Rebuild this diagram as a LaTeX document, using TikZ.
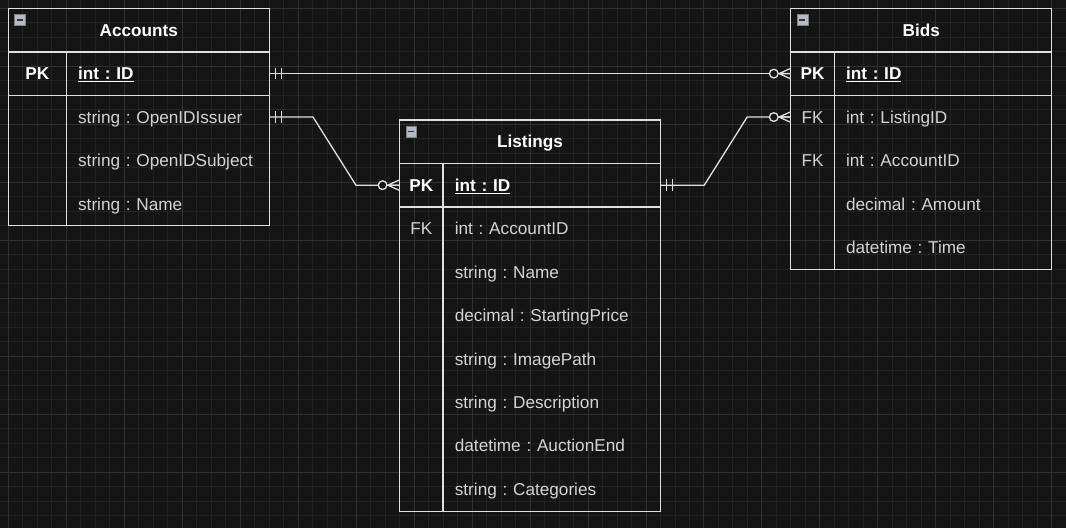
\documentclass[tikz,border=0pt]{standalone}
\usepackage{fontspec}
\setmainfont{Liberation Sans}
\usepackage{xcolor}
\usepackage{tikz}
\usetikzlibrary{calc}
\frenchspacing

\definecolor{bg}{HTML}{141414}
\definecolor{gridminor}{HTML}{222222}
\definecolor{gridmajor}{HTML}{303030}
\definecolor{edge}{HTML}{E0E0E0}
\definecolor{txt}{HTML}{D4D4D4}
\definecolor{iconfill}{HTML}{B6BAC2}
\newcommand{\erfont}{\fontsize{17.2}{20}\selectfont}

\begin{document}
\begin{tikzpicture}[
    x=1.45pt, y=-1.45pt,
    box/.style = {draw=edge, line width=1.3pt},
    conn/.style = {draw=edge, line width=1.3pt},
    title/.style = {inner sep=0pt, text height=14pt, text depth=2pt, text=white, font=\erfont\bfseries},
    key/.style = {minimum height=43.5pt, minimum width=43.5pt, inner sep=0pt, text height=14pt, text depth=2pt, text=txt, font=\erfont},
    pkkey/.style = {key, text=white, font=\erfont\bfseries},
    field/.style = {anchor=west, minimum height=43.5pt, inner sep=0pt, text height=14pt, text depth=2pt, align=left, text width=205.9pt, text=txt, font=\erfont},
    idfield/.style = {field, text=white, font=\erfont\bfseries},
    minicon/.style = {draw=gray, fill=iconfill, minimum size=11pt, inner sep=0pt, text=black!80},
    mandone/.pic = {\draw[edge, line width=1.3pt] (4,-4) -- (4,4) (8,-4) -- (8,4);},
    zeromany/.pic = {
        \draw[edge, line width=1.3pt] (-8,0) -- (0,-3.6) (-8,0) -- (0,3.6) (-8,0) -- (0,0);
        \draw[edge, line width=1.3pt, fill=bg] (-11.6,0) circle (3);
    }
]

    % Canvas
    \fill[bg] (-5.52,-5.52) rectangle (729.66,358.62);
    \foreach \k in {0,...,72} \draw[gridminor, line width=0.8pt] (10*\k,-5.52) -- (10*\k,358.62);
    \foreach \k in {0,...,35} \draw[gridminor, line width=0.8pt] (-5.52,10*\k) -- (729.66,10*\k);
    \foreach \k in {0,4,...,72} \draw[gridmajor, line width=0.8pt] (10*\k,-5.52) -- (10*\k,358.62);
    \foreach \k in {0,4,...,32} \draw[gridmajor, line width=0.8pt] (-5.52,10*\k) -- (729.66,10*\k);

    % Accounts
    \draw[box] (0,0) rectangle (180,150);
    \draw[box] (0,30) -- (180,30) (0,60) -- (180,60) (40,30) -- (40,150);
    \node[minicon] (acc-min) at (8,8) {\rule{6pt}{1.6pt}};
    \node[title] (acc-title) at (90,15) {Accounts};
    \node[pkkey, minimum width=58pt] (acc-pk) at (20,45) {PK};
    \node[idfield, text width=191.4pt] (acc-id) at (48,45) {\underline{int : ID}};
    \node[field, text width=191.4pt] (acc-issuer) at (48,75) {string : OpenIDIssuer};
    \node[field, text width=191.4pt] (acc-subject) at (48,105) {string : OpenIDSubject};
    \node[field, text width=191.4pt] (acc-name) at (48,135) {string : Name};

    % Listings
    \draw[box] (270,77) rectangle (450,347);
    \draw[box] (270,107) -- (450,107) (270,137) -- (450,137) (300,107) -- (300,347);
    \node[minicon] (lst-min) at (278,85) {\rule{6pt}{1.6pt}};
    \node[title] (lst-title) at (360,92) {Listings};
    \node[pkkey] (lst-pk) at (285,122) {PK};
    \node[idfield] (lst-id) at (308,122) {\underline{int : ID}};
    \node[key] (lst-fk) at (285,152) {FK};
    \node[field] (lst-account) at (308,152) {int : AccountID};
    \node[field] (lst-name) at (308,182) {string : Name};
    \node[field] (lst-price) at (308,212) {decimal : StartingPrice};
    \node[field] (lst-image) at (308,242) {string : ImagePath};
    \node[field] (lst-desc) at (308,272) {string : Description};
    \node[field] (lst-end) at (308,302) {datetime : AuctionEnd};
    \node[field] (lst-cat) at (308,332) {string : Categories};

    % Bids
    \draw[box] (540,0) rectangle (720,180);
    \draw[box] (540,30) -- (720,30) (540,60) -- (720,60) (570,30) -- (570,180);
    \node[minicon] (bid-min) at (548,8) {\rule{6pt}{1.6pt}};
    \node[title] (bid-title) at (630,15) {Bids};
    \node[pkkey] (bid-pk) at (555,45) {PK};
    \node[idfield] (bid-id) at (578,45) {\underline{int : ID}};
    \node[key] (bid-fk1) at (555,75) {FK};
    \node[field] (bid-listing) at (578,75) {int : ListingID};
    \node[key] (bid-fk2) at (555,105) {FK};
    \node[field] (bid-account) at (578,105) {int : AccountID};
    \node[field] (bid-amount) at (578,135) {decimal : Amount};
    \node[field] (bid-time) at (578,165) {datetime : Time};

    % Relations
    \draw[conn] (acc-id.east) -- (bid-pk.west);
    \draw[conn] (acc-issuer.east) -- ++(30,0) -- ($(lst-pk.west)+(-30,0)$) -- (lst-pk.west);
    \draw[conn] (lst-id.east) -- ++(30,0) -- ($(bid-fk1.west)+(-30,0)$) -- (bid-fk1.west);

    \pic at (acc-id.east) {mandone};
    \pic at (acc-issuer.east) {mandone};
    \pic at (lst-id.east) {mandone};
    \pic at (bid-pk.west) {zeromany};
    \pic at (lst-pk.west) {zeromany};
    \pic at (bid-fk1.west) {zeromany};
\end{tikzpicture}
\end{document}
